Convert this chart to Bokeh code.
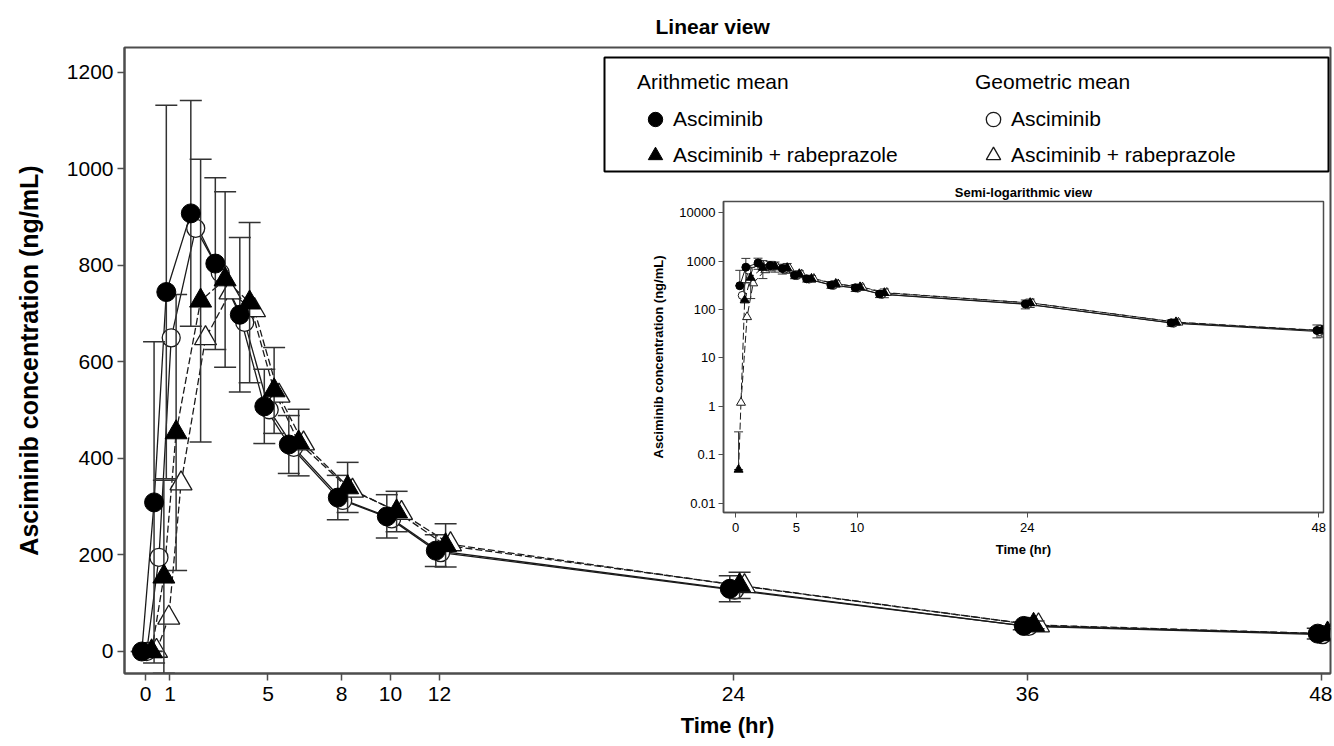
import numpy as np
import pandas as pd
from bokeh.plotting import figure
from bokeh.models import (ColumnDataSource, Range1d, FixedTicker, Whisker, TeeHead,
                          Legend, LegendItem, BoxAnnotation, PrintfTickFormatter, GridBox)
from bokeh.embed import file_html
from bokeh.resources import INLINE

# ---------------- data ----------------
time_hr = [0, 0.5, 1, 2, 3, 4, 5, 6, 8, 10, 12, 24, 36, 48]
# arithmetic means (+/- SD)
am_asciminib = [0, 309, 745, 908, 804, 698, 508, 429, 319, 280, 209, 130, 53, 37]
sd_asciminib = [0, 333, 387, 234, 178, 160, 77, 60, 46, 45, 33, 27, 8, 11]
am_rabeprazole = [0.05, 155, 454, 727, 771, 723, 541, 433, 340, 290, 220, 137, 55, 37]
sd_rabeprazole = [0.25, 200, 286, 293, 182, 166, 89, 69, 52, 42, 45, 27, 8, 10]
# geometric means
gm_asciminib = [0, 195, 650, 877, 785, 682, 501, 423, 313, 275, 205, 127, 52, 35]
gm_rabeprazole = [1.2, 70, 348, 649, 744, 707, 530, 431, 333, 287, 222, 135, 54, 36]

x_ticks_main = [0, 1, 5, 8, 10, 12, 24, 36, 48]
y_ticks_main = [0, 200, 400, 600, 800, 1000, 1200]
x_ticks_inset = [0, 5, 10, 24, 48]
y_ticks_inset = [0.01, 0.1, 1, 10, 100, 1000, 10000]

FONT = "Liberation Sans"
INK = "#1a1a1a"
AXC = "#4d4d4d"

# horizontal dodge of the four series (style)
DODGE = {"am_asc": -0.15, "gm_asc": 0.05, "am_rab": 0.25, "gm_rab": 0.45}

t = np.array(time_hr, dtype=float)
series = {
    "am_asc": np.array(am_asciminib, dtype=float),
    "gm_asc": np.array(gm_asciminib, dtype=float),
    "am_rab": np.array(am_rabeprazole, dtype=float),
    "gm_rab": np.array(gm_rabeprazole, dtype=float),
}
sds = {"am_asc": np.array(sd_asciminib, float), "am_rab": np.array(sd_rabeprazole, float)}

# ---------------- main figure ----------------
W, H = 1332, 745
BL, BR, BT, BB = 124, 2, 47, 72
FRAME_L, FRAME_R, FRAME_T, FRAME_B = BL, W - BR, BT, H - BB
X0, X1 = -0.857, 48.37
Y0, Y1 = -45.6, 1251.8


def fx(px):
    return X0 + (px - FRAME_L) * (X1 - X0) / (FRAME_R - FRAME_L)


def fy(py):
    return Y1 - (py - FRAME_T) * (Y1 - Y0) / (FRAME_B - FRAME_T)


p = figure(width=W, height=H, x_range=Range1d(X0, X1), y_range=Range1d(Y0, Y1),
           output_backend="svg", toolbar_location=None,
           min_border_left=BL, min_border_right=BR, min_border_top=BT, min_border_bottom=BB,
           title="Linear view")
p.title.align = "left"
p.title.vertical_align = "top"
p.title.offset = 531
p.title.standoff = 16
p.title.text_font = FONT
p.title.text_font_size = "21px"
p.title.text_font_style = "bold"
p.title.text_color = "black"

p.xgrid.visible = False
p.ygrid.visible = False
p.outline_line_color = AXC
p.outline_line_width = 2
p.background_fill_color = "white"
p.border_fill_color = "white"

for ax in (p.xaxis[0], p.yaxis[0]):
    ax.axis_line_color = AXC
    ax.axis_line_width = 2
    ax.major_tick_line_color = AXC
    ax.major_tick_line_width = 1.5
    ax.major_tick_in = 0
    ax.major_tick_out = 7
    ax.minor_tick_line_color = None
    ax.major_label_text_font = FONT
    ax.major_label_text_font_size = "21px"
    ax.major_label_text_color = "black"
    ax.axis_label_text_font = FONT
    ax.axis_label_text_font_style = "bold"
    ax.axis_label_text_color = "black"

p.xaxis.ticker = FixedTicker(ticks=x_ticks_main)
p.yaxis.ticker = FixedTicker(ticks=y_ticks_main)
p.xaxis.axis_label = "Time (hr)"
p.yaxis.axis_label = "Asciminib concentration (ng/mL)"
p.xaxis.axis_label_text_font_size = "22px"
p.yaxis.axis_label_text_font_size = "25px"
p.xaxis.major_label_standoff = 6
p.yaxis.major_label_standoff = 4
p.xaxis.axis_label_standoff = 9
p.yaxis.axis_label_standoff = 21

line_dash = {"am_asc": "solid", "gm_asc": "solid", "am_rab": "7 3", "gm_rab": "7 3"}
srcs = {}
for k, y in series.items():
    srcs[k] = ColumnDataSource(dict(x=t + DODGE[k], y=y))
    p.line("x", "y", source=srcs[k], line_color=INK, line_width=1.3,
           line_dash=line_dash[k], level="image")

# open (geometric mean) markers
r_oc = p.scatter("x", "y", source=srcs["gm_asc"], marker="circle", size=18,
                 fill_color="white", line_color=INK, line_width=1.3, level="underlay")
r_ot = p.scatter("x", "y", source=srcs["gm_rab"], marker="triangle", size=22,
                 fill_color="white", line_color=INK, line_width=1.3, level="underlay")

# SD error bars for arithmetic means
for k in ("am_asc", "am_rab"):
    m = series[k]
    s = sds[k]
    wsrc = ColumnDataSource(dict(x=t + DODGE[k], upper=m + s, lower=m - s))
    w = Whisker(base="x", upper="upper", lower="lower", source=wsrc, dimension="height",
                line_color="#333333", line_width=1.5, level="underlay",
                upper_head=TeeHead(size=22, line_color="#333333", line_width=1.5),
                lower_head=TeeHead(size=22, line_color="#333333", line_width=1.5))
    p.add_layout(w)

# filled (arithmetic mean) markers
r_fc = p.scatter("x", "y", source=srcs["am_asc"], marker="circle", size=19,
                 fill_color="black", line_color="black")
r_ft = p.scatter("x", "y", source=srcs["am_rab"], marker="triangle", size=22,
                 fill_color="black", line_color="black")

# legend: frame box + two titled columns
box = BoxAnnotation(left=fx(604), right=fx(1328), top=fy(57), bottom=fy(171),
                    fill_alpha=0, line_color="black", line_width=2, line_alpha=1)
p.add_layout(box)


def make_legend(title, items, vx):
    lg = Legend(items=items, title=title, location=(vx, 500), orientation="vertical",
                glyph_width=36, glyph_height=36, label_standoff=-2, spacing=0,
                padding=0, margin=0, border_line_alpha=0, background_fill_alpha=0,
                label_text_font=FONT, label_text_font_size="21px", label_text_color="black",
                title_text_font=FONT, title_text_font_size="21px",
                title_text_font_style="normal", title_text_color="black", title_standoff=7)
    p.add_layout(lg)
    return lg


make_legend("Arithmetic mean", [LegendItem(label="Asciminib", renderers=[r_fc]),
                                LegendItem(label="Asciminib + rabeprazole", renderers=[r_ft])],
            637 - FRAME_L)
make_legend("Geometric mean", [LegendItem(label="Asciminib", renderers=[r_oc]),
                               LegendItem(label="Asciminib + rabeprazole", renderers=[r_ot])],
            975 - FRAME_L)

# ---------------- inset (semi-log) ----------------
IW, IH = 685, 386
IBL, IBR, IBT, IBB = 77, 8, 21, 54
IX0, IX1 = -0.99, 48.39
IY0, IY1 = 10 ** -2.186, 10 ** 4.227

q = figure(width=IW, height=IH, x_range=Range1d(IX0, IX1), y_range=Range1d(IY0, IY1),
           y_axis_type="log", output_backend="svg", toolbar_location=None,
           min_border_left=IBL, min_border_right=IBR, min_border_top=IBT, min_border_bottom=IBB,
           title="Semi-logarithmic view")
q.title.align = "center"
q.title.standoff = 4
q.title.text_font = FONT
q.title.text_font_size = "13px"
q.title.text_font_style = "bold"
q.title.text_color = "black"
q.xgrid.visible = False
q.ygrid.visible = False
q.outline_line_color = AXC
q.outline_line_width = 1.5
q.background_fill_color = "white"
q.border_fill_alpha = 0

for ax in (q.xaxis[0], q.yaxis[0]):
    ax.axis_line_color = AXC
    ax.axis_line_width = 1.5
    ax.major_tick_line_color = AXC
    ax.major_tick_line_width = 1
    ax.major_tick_in = 0
    ax.major_tick_out = 5
    ax.minor_tick_line_color = None
    ax.major_label_text_font = FONT
    ax.major_label_text_font_size = "13px"
    ax.major_label_text_color = "black"
    ax.axis_label_text_font = FONT
    ax.axis_label_text_font_size = "13px"
    ax.axis_label_text_font_style = "bold"
    ax.axis_label_text_color = "black"

q.xaxis.ticker = FixedTicker(ticks=x_ticks_inset)
q.yaxis.ticker = FixedTicker(ticks=y_ticks_inset)
q.yaxis.formatter = PrintfTickFormatter(format="%g")
q.xaxis.axis_label = "Time (hr)"
q.yaxis.axis_label = "Asciminib concentration (ng/mL)"
q.xaxis.major_label_standoff = 5
q.yaxis.major_label_standoff = 3
q.xaxis.axis_label_standoff = 7
q.yaxis.axis_label_standoff = 10

isrcs = {}
for k, y in series.items():
    pos = y > 0
    isrcs[k] = ColumnDataSource(dict(x=(t + DODGE[k])[pos], y=y[pos]))
    q.line("x", "y", source=isrcs[k], line_color=INK, line_width=1,
           line_dash=line_dash[k], level="image")

q.scatter("x", "y", source=isrcs["gm_asc"], marker="circle", size=8,
          fill_color="white", line_color=INK, line_width=1, level="underlay")
q.scatter("x", "y", source=isrcs["gm_rab"], marker="triangle", size=9,
          fill_color="white", line_color=INK, line_width=1, level="underlay")

for k in ("am_asc", "am_rab"):
    m = series[k]
    s = sds[k]
    pos = m > 0
    lo = np.where(m - s > 0, m - s, m)
    wsrc = ColumnDataSource(dict(x=(t + DODGE[k])[pos], upper=(m + s)[pos], lower=lo[pos]))
    w = Whisker(base="x", upper="upper", lower="lower", source=wsrc, dimension="height",
                line_color="#333333", line_width=1, level="underlay",
                upper_head=TeeHead(size=9, line_color="#333333", line_width=1),
                lower_head=TeeHead(size=9, line_color="#333333", line_width=1))
    q.add_layout(w)

q.scatter("x", "y", source=isrcs["am_asc"], marker="circle", size=8,
          fill_color="black", line_color="black")
q.scatter("x", "y", source=isrcs["am_rab"], marker="triangle", size=9,
          fill_color="black", line_color="black")

# ---------------- overlay layout ----------------
IX_OFF, IY_OFF = 646, 180
grid = GridBox(children=[(p, 0, 0, 3, 3), (q, 1, 1, 1, 1)],
               rows=[f"{IY_OFF}px", f"{IH}px", f"{H - IY_OFF - IH}px"],
               cols=[f"{IX_OFF}px", f"{IW}px", f"{W - IX_OFF - IW}px"],
               spacing=0)

open("out.html", "w").write(file_html(grid, INLINE))
